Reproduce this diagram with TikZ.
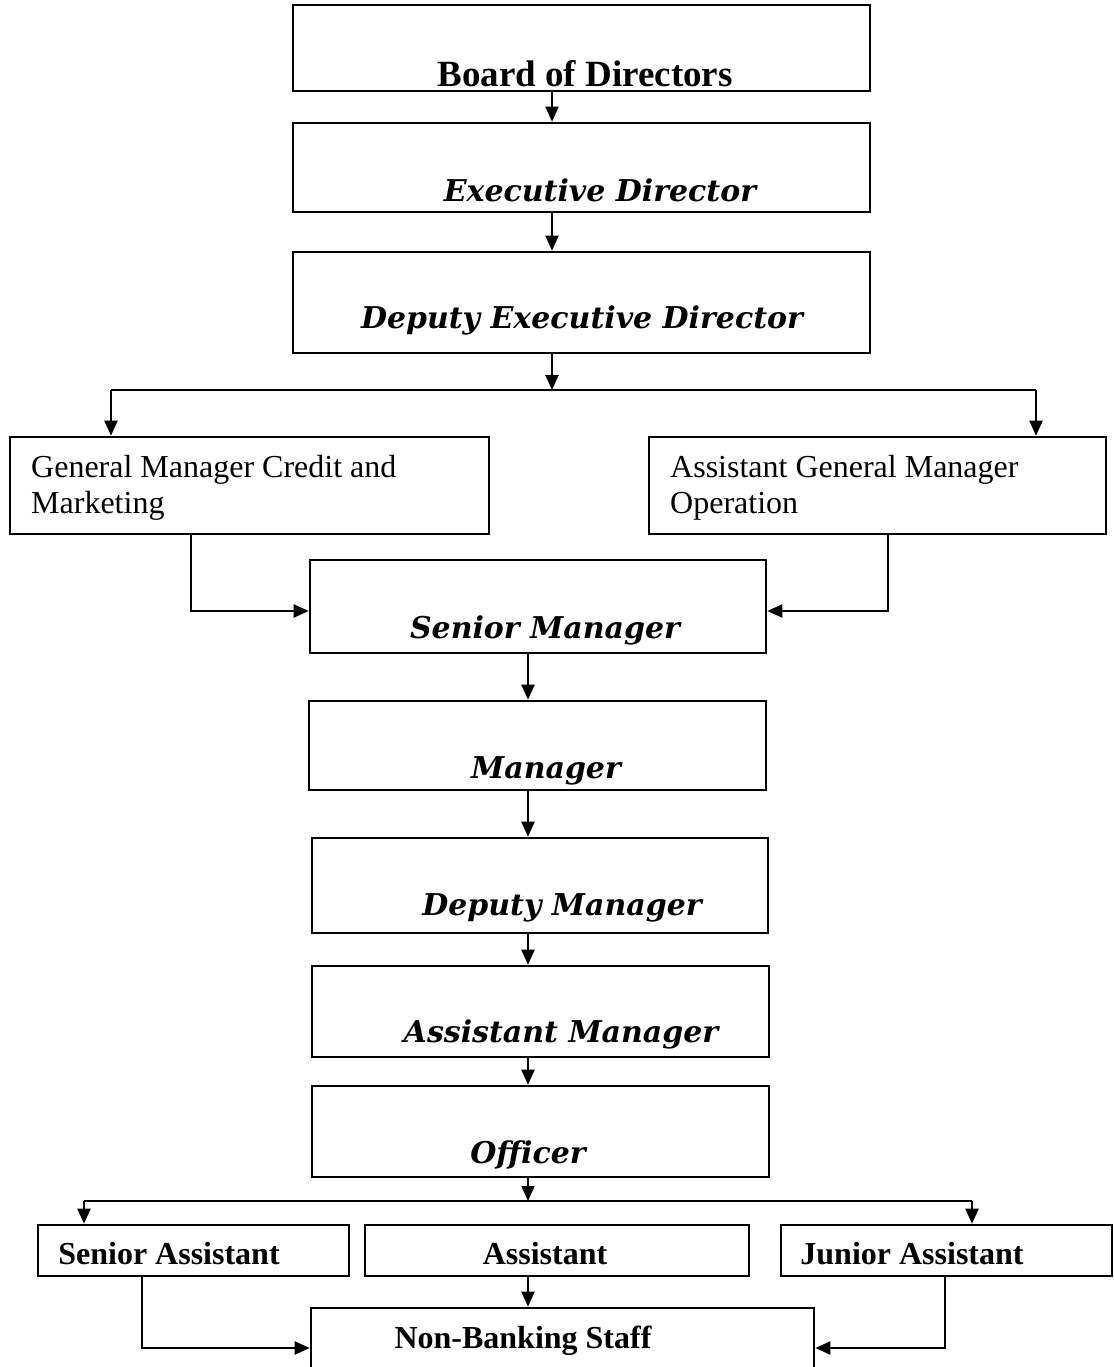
\documentclass[tikz,border=0pt]{standalone}
\usepackage{fontspec}
\setmainfont{Liberation Serif}
\newfontfamily\bossfont{DejaVu Serif}
\usetikzlibrary{positioning}
\usetikzlibrary{arrows.meta}

\begin{document}
\begin{tikzpicture}
    [
    x=1pt, y=-1pt,
    box/.style={draw, rectangle, line width=2.6pt, inner sep=0pt},
    conn/.style={line width=2pt, -{Triangle[length=15pt,width=13pt]}},
    wire/.style={line width=2pt},
    bossname/.style={font=\bossfont\bfseries\itshape\fontsize{#1}{34}\selectfont, anchor=base, inner sep=0pt},
    staffname/.style={font=\bfseries\fontsize{#1}{36}\selectfont, anchor=base, inner sep=0pt},
    deskname/.style={font=\fontsize{32}{36}\selectfont, anchor=base west, align=left, inner sep=0pt},
    ]

    \useasboundingbox (0,0) rectangle (1113,1367);

    \node[box, minimum width=577pt, minimum height=86pt] (board) at (581.5,48) {};
    \node[box, minimum width=577pt, minimum height=89pt] (exec) at (581.5,167.5) {};
    \node[box, minimum width=577pt, minimum height=101pt] (deputy) at (581.5,302.5) {};
    \node[box, minimum width=479pt, minimum height=97pt] (gm) at (249.5,485.5) {};
    \node[box, minimum width=457pt, minimum height=97pt] (agm) at (877.5,485.5) {};
    \node[box, minimum width=456pt, minimum height=93pt] (senior) at (538,606.5) {};
    \node[box, minimum width=457pt, minimum height=89pt] (manager) at (537.5,745.5) {};
    \node[box, minimum width=456pt, minimum height=95pt] (depman) at (540,885.5) {};
    \node[box, minimum width=457pt, minimum height=91pt] (asstman) at (540.5,1011.5) {};
    \node[box, minimum width=457pt, minimum height=91pt] (officer) at (540.5,1131.5) {};
    \node[box, minimum width=311pt, minimum height=51pt] (senasst) at (193.5,1250.5) {};
    \node[box, minimum width=384pt, minimum height=51pt] (asst) at (557,1250.5) {};
    \node[box, minimum width=331pt, minimum height=51pt] (junasst) at (946.5,1250.5) {};
    \node[box, minimum width=503pt, minimum height=112pt] (nonbank) at (562.5,1364) {};

    \node[staffname=37] (boardtxt) at (585,87) {Board of Directors};
    \node[bossname=30] (exectxt) at (600,201) {Executive Director};
    \node[bossname=30] (deputytxt) at (582,328) {Deputy Executive Director};
    \node[deskname] (gmtxt) at (31,513) {General Manager Credit and\\Marketing};
    \node[deskname] (agmtxt) at (670,513) {Assistant General Manager\\Operation};
    \node[bossname=30] (seniortxt) at (545,638) {Senior Manager};
    \node[bossname=30] (managertxt) at (546,778) {Manager};
    \node[bossname=30] (depmantxt) at (562,915) {Deputy Manager};
    \node[bossname=30] (asstmantxt) at (561,1042) {Assistant Manager};
    \node[bossname=30] (officertxt) at (528,1163) {Officer};
    \node[staffname=32] (senassttxt) at (169,1264) {Senior Assistant};
    \node[staffname=32] (assttxt) at (545,1264) {Assistant};
    \node[staffname=32] (junassttxt) at (912,1264) {Junior Assistant};
    \node[staffname=32] (nonbanktxt) at (523,1348) {Non-Banking Staff};

    \coordinate (spine) at (552,0);
    \coordinate (spineb) at (528,0);
    \coordinate (forkl) at (111,390);
    \coordinate (forkr) at (1036,390);
    \coordinate (gmjoin) at (191,611);
    \coordinate (agmjoin) at (888,611);
    \coordinate (staffl) at (84,1201);
    \coordinate (staffr) at (972,1201);
    \coordinate (senjoin) at (142,1348);
    \coordinate (junjoin) at (945,1348);

    \draw[conn] (board.south -| spine) -- (exec.north -| spine);
    \draw[conn] (exec.south -| spine) -- (deputy.north -| spine);
    \draw[conn] (deputy.south -| spine) -- (forkl -| spine);
    \draw[wire] (forkl) -- (forkr);
    \draw[conn] (forkl) -- (gm.north -| forkl);
    \draw[conn] (forkr) -- (agm.north -| forkr);
    \draw[conn] (gm.south -| gmjoin) -- (gmjoin) -- (gmjoin -| senior.west);
    \draw[conn] (agm.south -| agmjoin) -- (agmjoin) -- (agmjoin -| senior.east);

    \draw[conn] (senior.south -| spineb) -- (manager.north -| spineb);
    \draw[conn] (manager.south -| spineb) -- (depman.north -| spineb);
    \draw[conn] (depman.south -| spineb) -- (asstman.north -| spineb);
    \draw[conn] (asstman.south -| spineb) -- (officer.north -| spineb);
    \draw[conn] (officer.south -| spineb) -- (staffl -| spineb);
    \draw[wire] (staffl) -- (staffr);
    \draw[conn] (staffl) -- (senasst.north -| staffl);
    \draw[conn] (staffr) -- (junasst.north -| staffr);
    \draw[conn] (asst.south -| spineb) -- (nonbank.north -| spineb);
    \draw[conn] (senasst.south -| senjoin) -- (senjoin) -- (senjoin -| nonbank.west);
    \draw[conn] (junasst.south -| junjoin) -- (junjoin) -- (junjoin -| nonbank.east);
\end{tikzpicture}
\end{document}
